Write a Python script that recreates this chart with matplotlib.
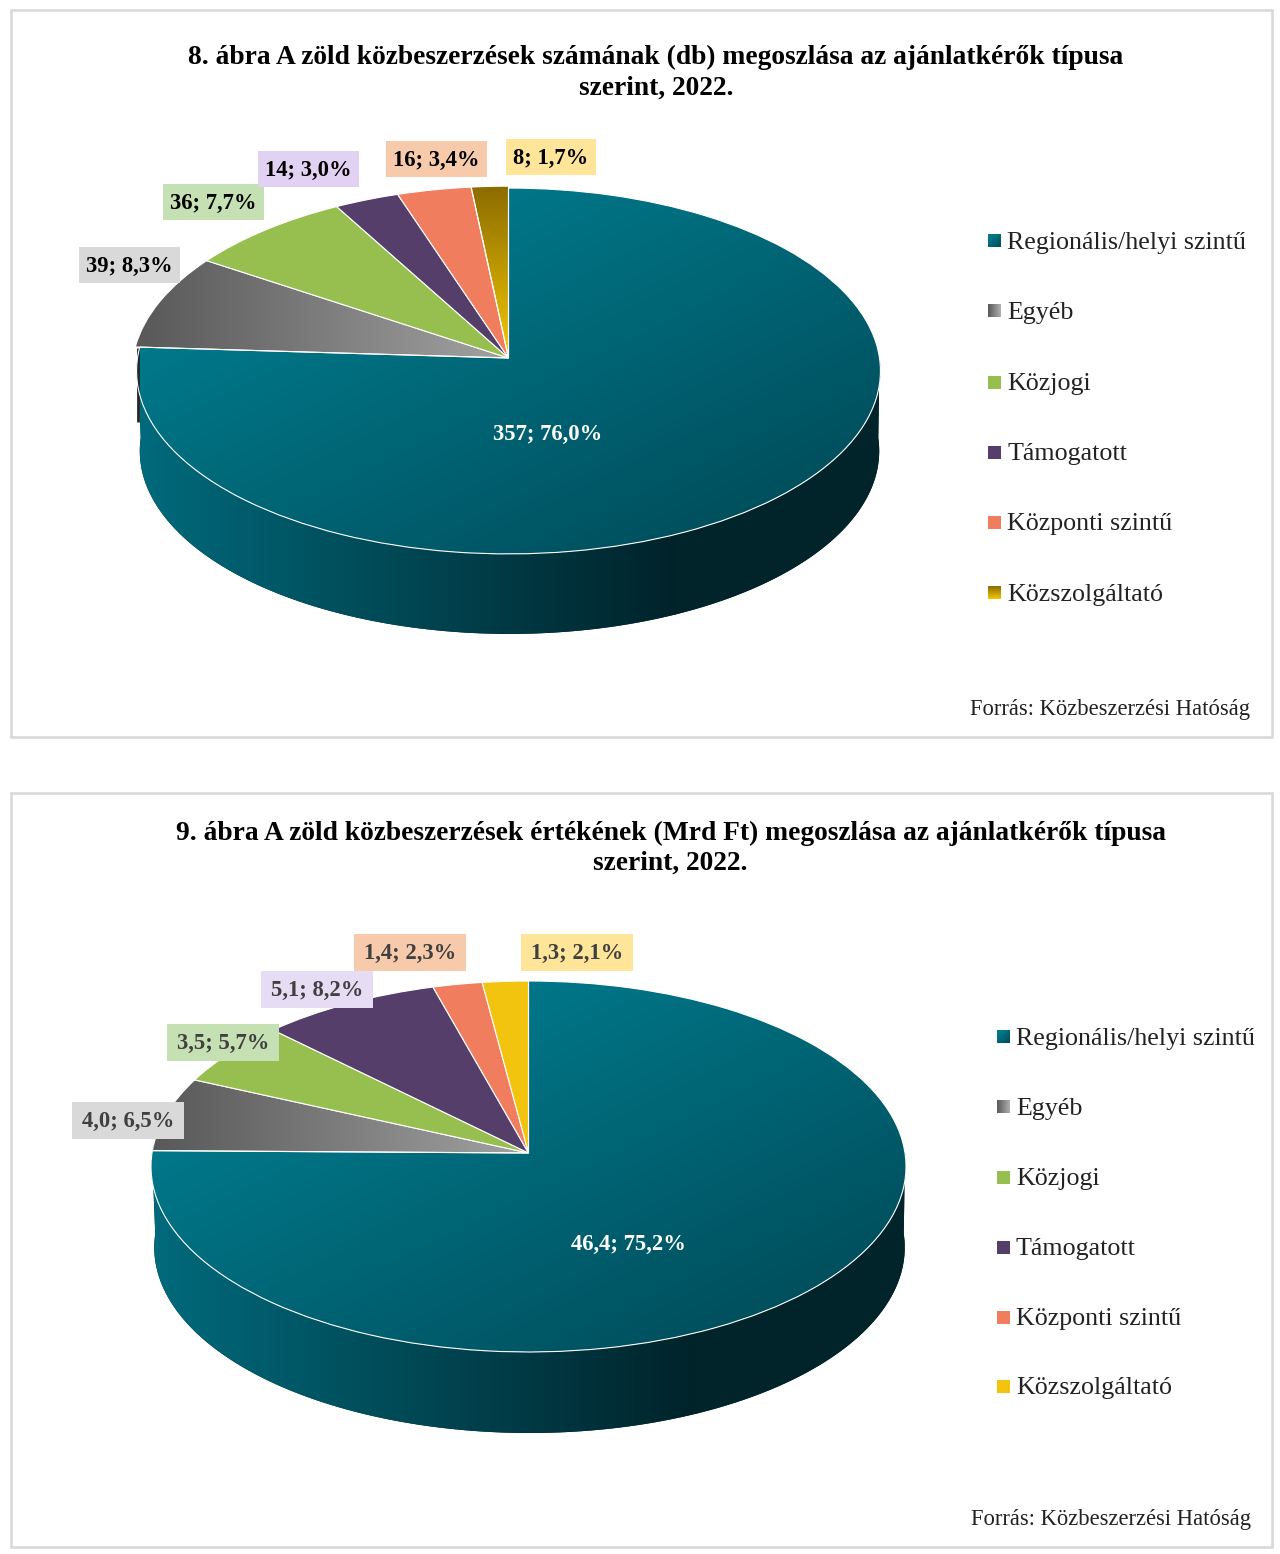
import numpy as np
import matplotlib
matplotlib.use("Agg")
import matplotlib.pyplot as plt
from matplotlib.colors import to_rgb
from matplotlib.patches import Polygon, Rectangle
from matplotlib.transforms import Transform

plt.rcParams['font.family'] = ['Liberation Serif', 'DejaVu Serif']

# data
categories = ["Regionális/helyi szintű", "Egyéb", "Közjogi", "Támogatott",
              "Központi szintű", "Közszolgáltató"]
counts_2022 = [357, 39, 36, 14, 16, 8]
counts_pct = [76.0, 8.3, 7.7, 3.0, 3.4, 1.7]
value_2022 = [46.4, 4.0, 3.5, 5.1, 1.4, 1.3]
value_pct = [75.2, 6.5, 5.7, 8.2, 2.3, 2.1]
title_8 = ["8. ábra A zöld közbeszerzések számának (db) megoszlása az ajánlatkérők típusa",
           "szerint, 2022."]
title_9 = ["9. ábra A zöld közbeszerzések értékének (Mrd Ft) megoszlása az ajánlatkérők típusa",
           "szerint, 2022."]
source = "Forrás: Közbeszerzési Hatóság"

# styles
TEAL = "#007a8c"
TEAL_DARK = "#004653"
WALL_L = "#006a7c"
WALL_R = "#01232a"
GREY_L = "#585858"
GREY_R = "#a2a2a2"
GOLD_T = "#8c6c00"
GOLD_B = "#f4c800"
slice_colors = [TEAL, "#808080", "#97bf4f", "#553e69", "#f17d5f", "#f2c40f"]
box_colors_8 = ["#d9d9d9", "#c5e0b3", "#e1d1f2", "#f7caac", "#fee599"]
box_colors_9 = ["#d9d9d9", "#c5e0b3", "#e6dcf3", "#f7caac", "#fee599"]
FRAME = "#d9d9d9"
W, H = 1280, 1554
TITLE_SIZE = 19.85
LABEL_SIZE = 16.3
LEGEND_SIZE = 18.7
SOURCE_SIZE = 16.3


class Tilt(Transform):
	# perspective view of the unit circle, gives image pixels
	input_dims = 2
	output_dims = 2

	def __init__(self, cx, cy, rx, ry, k):
		super().__init__()
		self.cx, self.cy, self.rx, self.ry, self.k = cx, cy, rx, ry, k

	def transform_non_affine(self, values):
		values = np.asarray(values, dtype=float)
		u, v = values[:, 0], values[:, 1]
		w = 1 + self.k * v
		return np.column_stack([self.cx + self.rx * u / w, self.cy - self.ry * v / w])


def gradient(ax, box, c0, c1, mode, clip=None, z=2):
	x0, x1, y0, y1 = box
	t = np.linspace(0, 1, 200)
	X, Y = np.meshgrid(t, t)
	if mode == "h":
		s = X
	elif mode == "v":
		s = Y
	else:
		s = np.clip(((X + Y) / 2 - 0.2) / 0.8, 0, 1)
	a, b = np.array(to_rgb(c0)), np.array(to_rgb(c1))
	rgb = a[None, None, :] + (b - a)[None, None, :] * s[:, :, None]
	im = ax.imshow(rgb, extent=(x0, x1, y1, y0), aspect="auto", interpolation="bilinear", zorder=z)
	if clip is not None:
		im.set_clip_path(clip)
	return im


def wedge_box(wedge, tilt):
	pts = tilt.transform(wedge.get_patch_transform().transform(wedge.get_path().vertices))
	return pts[:, 0].min(), pts[:, 0].max(), pts[:, 1].min(), pts[:, 1].max()


def draw_pie(ax, values, cx, cy, rx, ry, k, depth, gold_gradient, seam, small_radius):
	tilt = Tilt(cx, cy, rx, ry, k)
	wedges, _ = ax.pie(values, colors=slice_colors, startangle=90, counterclock=False,
					   wedgeprops=dict(edgecolor="white", linewidth=0.8))
	ax.set_aspect("auto")
	ax.set_xlim(0, W)
	ax.set_ylim(H, 0)

	# side wall
	theta = np.linspace(np.pi, 2 * np.pi, 300)
	top = tilt.transform(np.column_stack([np.cos(theta), np.sin(theta)]))
	bottom = np.column_stack([cx + 1 + (top[:, 0] - cx) * 0.994, top[:, 1] + depth])
	wall = Polygon(np.vstack([top, bottom[::-1]]), closed=True, facecolor=WALL_R, edgecolor="none", zorder=1)
	ax.add_patch(wall)
	gradient(ax, (cx - rx, cx + 0.45 * rx, cy, cy + ry + depth + 40), WALL_L, WALL_R, "h", wall, 1.2)
	xs = np.array([cx + 0.45 * rx, cx + rx + 5])
	ax.fill_between(xs, cy, cy + ry + depth + 40, color=WALL_R, zorder=1.1, clip_path=wall)

	for w in wedges:
		w.set_transform(tilt + ax.transData)
		w.set_zorder(3)
		w.set_clip_on(False)
	for w in wedges[1:]:
		w.set_radius(small_radius)

	gradient(ax, wedge_box(wedges[0], tilt), TEAL, TEAL_DARK, "d", wedges[0], 2)
	wedges[0].set_facecolor("none")
	gradient(ax, wedge_box(wedges[1], tilt), GREY_L, GREY_R, "h", wedges[1], 2)
	wedges[1].set_facecolor("none")
	if gold_gradient:
		gradient(ax, wedge_box(wedges[5], tilt), GOLD_T, GOLD_B, "v", wedges[5], 2)
		wedges[5].set_facecolor("none")

	if seam:
		# dark cut face under the grey slice
		ang = np.deg2rad(90 - 360 * values[0] / sum(values))
		p = tilt.transform(np.array([[np.cos(ang), np.sin(ang)]]))[0]
		ax.plot([p[0] - 2, p[0] - 2], [p[1] + 1, p[1] + depth - 5], color="#262626", lw=2, zorder=2.5,
				solid_capstyle="butt")


def draw_labels(ax, texts, centers, colors, widths, height, txt_color):
	for s, (x, y), c, bw in zip(texts, centers, colors, widths):
		ax.add_patch(Rectangle((x - bw / 2, y - height / 2), bw, height, facecolor=c,
							   edgecolor="none", zorder=5))
		ax.text(x, y + 1, s, ha="center", va="center", fontsize=LABEL_SIZE, fontweight="bold",
				color=txt_color, zorder=6)


def draw_legend(ax, x, ys, gold_gradient):
	m = 13
	fills = [(TEAL, "#004a58", "d"), (GREY_L, "#b0b0b0", "h"), None, None, None,
			 (GOLD_T, GOLD_B, "v") if gold_gradient else None]
	for i, (name, y) in enumerate(zip(categories, ys)):
		if fills[i] is None:
			ax.add_patch(Rectangle((x, y - m / 2), m, m, facecolor=slice_colors[i], edgecolor="none", zorder=4))
		else:
			gradient(ax, (x, x + m, y - m / 2, y + m / 2), fills[i][0], fills[i][1], fills[i][2], None, 4)
		ax.text(x + 19, y + 2, name, ha="left", va="center", fontsize=LEGEND_SIZE, color="#222222", zorder=6)


def fmt(v, p):
	return f"{v}; {p:.1f}%".replace(".", ",")


fig = plt.figure(figsize=(W / 100, H / 100), dpi=100)
ax = fig.add_axes([0, 0, 1, 1])

# panel frames
ax.add_patch(Rectangle((11, 10), 1261, 727, facecolor="white", edgecolor=FRAME, linewidth=1.9, zorder=0))
ax.add_patch(Rectangle((11, 793), 1261, 754, facecolor="white", edgecolor=FRAME, linewidth=1.9, zorder=0))

# 8. abra
draw_pie(ax, counts_2022, 508.5, 358, 371, 182, 0.071, 80, True, True, 1.012)
ax.text(656, 57, title_8[0], ha="center", va="center", fontsize=TITLE_SIZE, fontweight="bold", color="black")
ax.text(656, 88, title_8[1], ha="center", va="center", fontsize=TITLE_SIZE, fontweight="bold", color="black")
draw_labels(ax, [fmt(c, p) for c, p in zip(counts_2022[1:], counts_pct[1:])],
			[(129, 265), (213, 202), (308, 169), (436, 159), (551, 157)], box_colors_8,
			[101, 101, 101, 101, 90], 36, "black")
ax.text(548, 434, fmt(counts_2022[0], counts_pct[0]), ha="center", va="center", fontsize=LABEL_SIZE,
		fontweight="bold", color="white", zorder=6)
draw_legend(ax, 988, [241, 311, 382, 452, 522, 593], True)
ax.text(1250, 710, source, ha="right", va="center", fontsize=SOURCE_SIZE, color="#222222")

# 9. abra
draw_pie(ax, value_2022, 528.5, 1153, 376.5, 184.5, 0.0728, 81, False, False, 1.0)
ax.text(670.5, 833, title_9[0], ha="center", va="center", fontsize=TITLE_SIZE, fontweight="bold", color="black")
ax.text(670.5, 863, title_9[1], ha="center", va="center", fontsize=TITLE_SIZE, fontweight="bold", color="black")
draw_labels(ax, [fmt(c, p) for c, p in zip(value_2022[1:], value_pct[1:])],
			[(128, 1120), (223, 1042), (317, 989), (410, 952), (577, 952)], box_colors_9,
			[112, 112, 112, 112, 112], 37, "#404040")
ax.text(628, 1244, fmt(value_2022[0], value_pct[0]), ha="center", va="center", fontsize=LABEL_SIZE,
		fontweight="bold", color="white", zorder=6)
draw_legend(ax, 997, [1037, 1107, 1177, 1247, 1317, 1386], False)
ax.text(1251, 1520, source, ha="right", va="center", fontsize=SOURCE_SIZE, color="#222222")

ax.set_xlim(0, W)
ax.set_ylim(H, 0)
ax.set_aspect("auto")
ax.axis("off")
fig.savefig("out.png", dpi=100, facecolor="white")
